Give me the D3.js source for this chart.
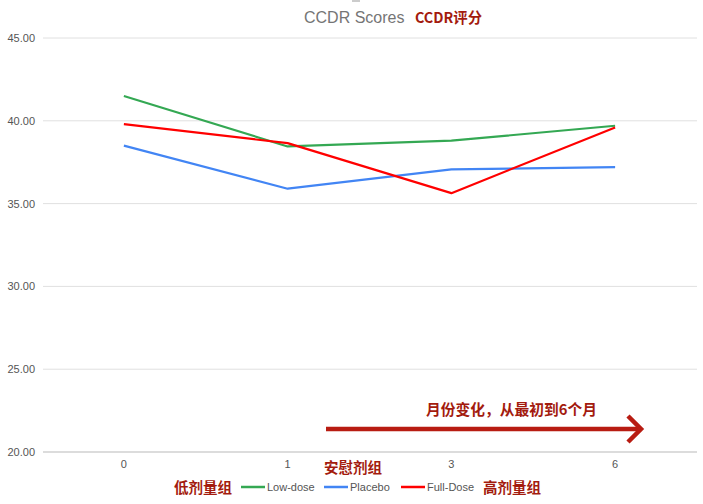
<!DOCTYPE html>
<html><head><meta charset="utf-8">
<script src="https://cdn.jsdelivr.net/npm/d3@7"></script>
<style>
body{margin:0;background:#fff;}
svg{display:block;font-family:"Liberation Sans",Arial,sans-serif;}
.cn{font-family:"Noto Sans CJK SC",sans-serif;font-weight:bold;fill:#a31b0e;}
</style></head>
<body><svg id="c" width="703" height="504"></svg>
<script>
const months = ["0","1","3","6"];
const lowDose = [41.5, 38.45, 38.8, 39.7];
const placebo = [38.5, 35.9, 37.07, 37.2];
const fullDose = [39.8, 38.65, 35.63, 39.6];
const yTicks = [20,25,30,35,40,45];
const seriesNames = ["Low-dose","Placebo","Full-Dose"];
const seriesColors = ["#34a853","#4285f4","#ff0000"];

const svg = d3.select("#c");
const x = d3.scalePoint().domain(months).range([42,697]).padding(0.5);
const y = d3.scaleLinear().domain([20,45]).range([452,38]);

// grid
svg.append("g").selectAll("line").data(yTicks).join("line")
  .attr("x1",43).attr("x2",697)
  .attr("y1",d=>y(d)).attr("y2",d=>y(d))
  .attr("stroke",d=>d===20?"#d0d0d0":"#e0e0e0").attr("stroke-width",d=>d===20?1.5:1);

// y axis labels
svg.append("g").selectAll("text").data(yTicks).join("text")
  .attr("x",35).attr("y",d=>y(d)+4).attr("text-anchor","end")
  .attr("font-size",11).attr("fill","#555").text(d=>d.toFixed(2));

// x axis labels
svg.append("g").selectAll("text").data(months).join("text")
  .attr("x",d=>x(d)).attr("y",468).attr("text-anchor","middle")
  .attr("font-size",11).attr("fill","#555").text(d=>d);

// lines
const data = [lowDose, placebo, fullDose];
const line = d3.line().x((d,i)=>x(months[i])).y(d=>y(d));
svg.append("g").selectAll("path").data(data).join("path")
  .attr("d",line).attr("fill","none")
  .attr("stroke",(d,i)=>seriesColors[i]).attr("stroke-width",2.2)
  .attr("stroke-linejoin","round");

// title
svg.append("line").attr("x1",352).attr("x2",360).attr("y1",1).attr("y2",1)
  .attr("stroke","#bbb").attr("stroke-width",1.5);
svg.append("text").attr("x",304).attr("y",23)
  .attr("font-size",16).attr("fill","#757575").text("CCDR Scores");
svg.append("text").attr("class","cn").attr("x",415).attr("y",23)
  .attr("font-size",14.5).attr("textLength",67).attr("lengthAdjust","spacingAndGlyphs").text("CCDR评分");

// legend
const legX = [241,324,401];
const lg = svg.append("g");
seriesNames.forEach((n,i)=>{
  lg.append("line").attr("x1",legX[i]).attr("x2",legX[i]+24)
    .attr("y1",487).attr("y2",487).attr("stroke",seriesColors[i]).attr("stroke-width",2.5);
  lg.append("text").attr("x",legX[i]+26).attr("y",491).attr("font-size",11)
    .attr("fill","#555").text(n);
});

// chinese labels
svg.append("text").attr("class","cn").attr("x",324).attr("y",473).attr("font-size",14.5).text("安慰剂组");
svg.append("text").attr("class","cn").attr("x",174).attr("y",493).attr("font-size",14.5).text("低剂量组");
svg.append("text").attr("class","cn").attr("x",483).attr("y",493).attr("font-size",14.5).text("高剂量组");
svg.append("text").attr("class","cn").attr("x",426).attr("y",415).attr("font-size",15)
  .attr("textLength",171).attr("lengthAdjust","spacingAndGlyphs").text("月份变化，从最初到6个月");

// arrow
const ac = "#b81c12";
svg.append("line").attr("x1",326).attr("x2",640).attr("y1",429).attr("y2",429)
  .attr("stroke",ac).attr("stroke-width",4.5);
svg.append("path").attr("d","M628,416 L641,429 L628,442").attr("fill","none")
  .attr("stroke",ac).attr("stroke-width",4.5).attr("stroke-linejoin","miter");
</script></body></html>
